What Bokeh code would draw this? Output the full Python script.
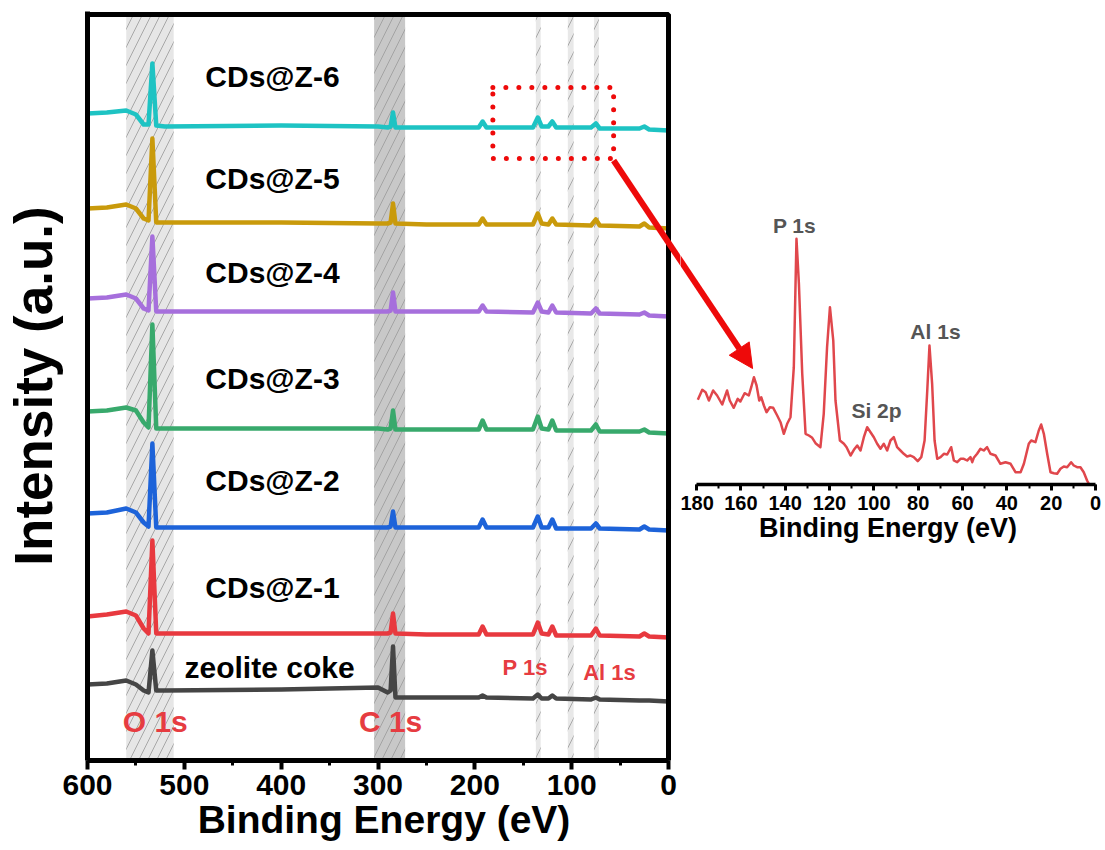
from bokeh.plotting import figure
from bokeh.models import (Range1d, BoxAnnotation, Arrow, NormalHead, Label,
                          SingleIntervalTicker, FixedTicker, ColumnDataSource, Spacer)
from bokeh.layouts import row, column
from bokeh.embed import file_html
from bokeh.resources import INLINE

# ---------------- data: survey spectra (stacked, arbitrary units) ----------------
energy = [600, 580, 560, 550, 542, 537, 533, 529, 520, 400, 300, 290, 287, 284.5, 282,
          250, 196, 192, 188, 140, 135, 131, 124, 120, 116, 80, 75, 71, 30, 25, 20, 0]

z6 = [647, 648, 650, 646, 636, 636, 697, 635, 634, 635, 634, 633, 634, 648, 633,
      633, 633, 639, 633, 633, 643, 634, 634, 639, 633, 633, 637, 632, 632, 634, 631, 630]
z5 = [552, 553, 556, 552, 542, 540, 622, 538, 538, 538, 537, 537, 538, 557, 537,
      536, 536, 542, 536, 536, 547, 537, 536, 542, 536, 535, 541, 535, 534, 537, 533, 532]
z4 = [462, 463, 466, 462, 452, 450, 524, 449, 449, 449, 449, 449, 450, 468, 449,
      449, 449, 455, 449, 448, 458, 449, 448, 455, 448, 447, 452, 447, 446, 448, 445, 444]
z3 = [349, 350, 353, 350, 338, 333, 436, 332, 332, 332, 332, 331, 332, 350, 331,
      331, 331, 340, 331, 331, 344, 332, 331, 340, 330, 330, 336, 329, 329, 331, 328, 327]
z2 = [247, 248, 252, 248, 238, 234, 317, 233, 233, 233, 233, 233, 234, 249, 233,
      233, 233, 241, 233, 233, 244, 233, 233, 241, 232, 232, 237, 232, 231, 234, 231, 230]
z1 = [144, 146, 149, 145, 132, 127, 220, 127, 127, 127, 127, 127, 128, 147, 127,
      126, 126, 134, 126, 126, 138, 127, 126, 134, 125, 125, 132, 125, 124, 127, 124, 123]
coke = [76, 77, 80, 76, 70, 68, 110, 70, 70, 71, 73, 68, 70, 114, 63,
        63, 63, 65, 63, 62, 66, 62, 62, 65, 62, 61, 63, 61, 60, 60, 60, 59]

series_names = ["CDs@Z-6", "CDs@Z-5", "CDs@Z-4", "CDs@Z-3", "CDs@Z-2", "CDs@Z-1", "zeolite coke"]
series_values = [z6, z5, z4, z3, z2, z1, coke]
series_colors = ["#1ec3c3", "#c99a0b", "#a66fdc", "#38a96c", "#1d63d9", "#e8393f", "#454545"]
label_x = [409, 409, 409, 409, 409, 409, 412]
label_y = [684, 582, 488, 382, 280, 173, 93]

# highlighted binding-energy bands (eV)
o_band = (560, 511)
c_band = (304, 272)
thin_bands = [(137, 132), (104, 98), (77, 72)]

peak_names = ["O 1s", "C 1s", "P 1s", "Al 1s"]
peak_x = [530, 287, 148, 61]
peak_y = [39, 39, 93, 88]
peak_size = ["30px", "30px", "22px", "22px"]

# ---------------- data: inset (zoom 180-0 eV, CDs@Z-6) ----------------
inset_energy = [179.4, 177.4, 175.9, 174.4, 172.5, 170.7, 168.4, 166.2, 165.0, 163.2, 161.4,
                160.2, 158.3, 156.4, 155.3, 154.1, 152.9, 151.7, 150.8, 149.6, 148.4, 146.9,
                145.4, 143.6, 142.1, 140.6, 139.1, 137.6, 136.1, 134.9, 133.8, 132.3, 130.8,
                129.3, 127.8, 126.3, 124.1, 122.6, 121.1, 119.8, 118.3, 117.3, 115.3, 113.5,
                112.3, 110.5, 109.0, 107.5, 106.0, 104.5, 103.0, 101.5, 100.0, 98.5, 97.0,
                95.5, 94.0, 92.5, 91.0, 89.5, 88.0, 86.5, 85.0, 83.5, 82.0, 80.2, 78.6, 77.1,
                75.9, 74.9, 73.7, 72.6, 71.4, 69.9, 68.4, 66.9, 65.1, 63.9, 62.4, 60.9, 59.4,
                57.9, 56.4, 55.6, 54.9, 53.4, 51.9, 50.4, 48.9, 47.4, 45.1, 42.9, 40.6, 38.3,
                36.1, 33.8, 32.3, 30.1, 29.0, 27.1, 25.6, 24.5, 23.3, 21.8, 20.3, 18.8, 17.3,
                15.8, 14.3, 12.8, 11.0, 9.8, 8.3, 6.8, 5.3, 3.8, 3.0]
inset_intensity = [84.7, 94.7, 92.3, 84.0, 94.0, 89.0, 80.0, 94.0, 84.0, 76.7, 85.7,
                   83.0, 91.3, 89.0, 97.3, 107.3, 99.0, 84.0, 87.3, 79.0, 72.3, 77.3,
                   76.7, 69.0, 62.3, 50.7, 60.7, 67.3, 117.3, 245.7, 200.7, 110.7, 50.7,
                   49.0, 46.7, 41.3, 37.3, 70.7, 137.3, 177.3, 144.0, 84.0, 44.0, 40.7,
                   37.3, 29.0, 34.7, 39.0, 34.0, 47.3, 57.3, 52.3, 47.3, 40.7, 35.7,
                   40.7, 34.0, 44.0, 47.3, 37.3, 34.0, 30.7, 28.0, 29.0, 27.3, 23.3, 27.3, 44.0,
                   94.0, 139.0, 100.7, 44.0, 25.7, 27.3, 30.7, 30.0, 37.3, 24.0, 22.3, 25.7, 25.7,
                   24.0, 27.3, 22.3, 26.7, 30.7, 35.7, 34.0, 37.3, 30.7, 29.0, 20.7, 22.3, 20.7,
                   12.3, 12.3, 20.7, 40.7, 44.0, 42.3, 54.0, 60.0, 50.7, 30.7, 12.3, 11.3, 10.7,
                   15.7, 18.0, 17.3, 22.3, 19.0, 17.3, 17.3, 12.3, 4.0, 0.7]
inset_peak_names = ["P 1s", "Si 2p", "Al 1s"]
inset_peak_x = [135.8, 98.8, 72.2]
inset_peak_y = [259, 74, 153]

# zoom box on the main plot and connecting arrow
zoom_box = dict(left=181.4, right=56.7, top=673, bottom=602)
arrow_main = dict(x0=56.7, y0=600, x1=-22.7, y1=484.8)
arrow_inset = dict(x_start=191.7, y_start=238.7, x_end=154.7, y_end=116)

FONT = "Liberation Sans"
RED = "#e63c41"
ARROW_RED = "#ee0a0a"

# ---------------- main figure ----------------
p = figure(width=680, height=850, output_backend="svg", toolbar_location=None,
           x_range=Range1d(600, -12.37), y_range=Range1d(0, 749),
           min_border_left=86, min_border_right=0, min_border_top=11, min_border_bottom=90)
p.grid.visible = False
p.outline_line_color = None
p.background_fill_color = "white"
p.border_fill_color = "white"

def band(lo_hi, fill):
    left, right = lo_hi
    return BoxAnnotation(left=right, right=left, bottom=0, top=746, fill_color=fill,
                         fill_alpha=1.0, line_color=None, hatch_pattern="/",
                         hatch_color="#9c9c9c", hatch_alpha=0.85, hatch_scale=18,
                         hatch_weight=1, level="underlay")

p.add_layout(band(o_band, "#e6e6e6"))
p.add_layout(band(c_band, "#c8c8c8"))
for b in thin_bands:
    p.add_layout(band(b, "#e8e8e8"))

for vals, col in zip(series_values, series_colors):
    src = ColumnDataSource(dict(x=energy, y=vals))
    p.line("x", "y", source=src, line_color=col, line_width=4.5, line_join="round")

for name, lx, ly in zip(series_names, label_x, label_y):
    p.add_layout(Label(x=lx, y=ly, text=name, text_font=FONT, text_font_style="bold",
                       text_font_size="30px", text_align="center", text_baseline="middle",
                       text_color="black"))

for name, lx, ly, fs in zip(peak_names, peak_x, peak_y, peak_size):
    p.add_layout(Label(x=lx, y=ly, text=name, text_font=FONT, text_font_style="bold",
                       text_font_size=fs, text_align="center", text_baseline="middle",
                       text_color=RED))

# plot frame (drawn as a box so the arrow can leave it)
p.add_layout(BoxAnnotation(left=600, right=0, bottom=0, top=746, fill_color=None,
                           fill_alpha=0, line_color="black", line_alpha=1.0, line_width=5))

p.add_layout(BoxAnnotation(fill_color=None, fill_alpha=0, line_color=ARROW_RED, line_alpha=1.0,
                           line_width=5, line_dash="0 13", line_cap="round", **zoom_box))
p.segment(line_color=ARROW_RED, line_width=6, level="overlay", **arrow_main)

p.xaxis.ticker = SingleIntervalTicker(interval=100, num_minor_ticks=2)
p.xaxis.bounds = (0, 600)
p.xaxis.axis_label = "Binding Energy (eV)"
p.xaxis.axis_label_text_font = FONT
p.xaxis.axis_label_text_font_style = "bold"
p.xaxis.axis_label_text_font_size = "39px"
p.xaxis.axis_label_text_color = "black"
p.xaxis.axis_label_standoff = 0
p.xaxis.major_label_text_font = FONT
p.xaxis.major_label_text_font_style = "bold"
p.xaxis.major_label_text_font_size = "30px"
p.xaxis.major_label_text_color = "black"
p.xaxis.major_label_standoff = 5
p.xaxis.axis_line_width = 5
p.xaxis.major_tick_line_width = 4
p.xaxis.major_tick_out = 9
p.xaxis.major_tick_in = 0
p.xaxis.minor_tick_line_width = 3
p.xaxis.minor_tick_out = 5
p.xaxis.minor_tick_in = 0

p.yaxis.ticker = FixedTicker(ticks=[])
p.yaxis.axis_label = "Intensity (a.u.)"
p.yaxis.axis_label_text_font = FONT
p.yaxis.axis_label_text_font_style = "bold"
p.yaxis.axis_label_text_font_size = "53px"
p.yaxis.axis_label_text_color = "black"
p.yaxis.axis_label_standoff = 25
p.yaxis.major_label_standoff = 0
p.yaxis.axis_line_width = 5
p.yaxis.major_tick_line_color = None
p.yaxis.minor_tick_line_color = None

# ---------------- inset figure ----------------
q = figure(width=425, height=380, output_backend="svg", toolbar_location=None,
           x_range=Range1d(187.22, 0), y_range=Range1d(0, 284), y_axis_location=None,
           min_border_left=0, min_border_right=10, min_border_top=10, min_border_bottom=86)
q.grid.visible = False
q.outline_line_color = None
q.background_fill_color = "white"
q.border_fill_color = "white"
q.line(inset_energy, inset_intensity, line_color="#e0474c", line_width=2.5, line_join="round")

for name, lx, ly in zip(inset_peak_names, inset_peak_x, inset_peak_y):
    q.add_layout(Label(x=lx, y=ly, text=name, text_font=FONT, text_font_style="bold",
                       text_font_size="21px", text_align="center", text_baseline="middle",
                       text_color="#555555"))

q.add_layout(Arrow(end=NormalHead(size=24, fill_color=ARROW_RED, line_color=ARROW_RED),
                   line_color=ARROW_RED, line_width=6, **arrow_inset))

q.xaxis.ticker = SingleIntervalTicker(interval=20, num_minor_ticks=2)
q.xaxis.bounds = (0, 180)
q.xaxis.axis_label = "Binding Energy (eV)"
q.xaxis.axis_label_text_font = FONT
q.xaxis.axis_label_text_font_style = "bold"
q.xaxis.axis_label_text_font_size = "27px"
q.xaxis.axis_label_text_color = "black"
q.xaxis.axis_label_standoff = 0
q.xaxis.major_label_text_font = FONT
q.xaxis.major_label_text_font_style = "bold"
q.xaxis.major_label_text_font_size = "20px"
q.xaxis.major_label_text_color = "black"
q.xaxis.major_label_standoff = 5
q.xaxis.axis_line_width = 3.5
q.xaxis.major_tick_line_width = 3
q.xaxis.major_tick_out = 6
q.xaxis.major_tick_in = 0
q.xaxis.minor_tick_line_width = 2
q.xaxis.minor_tick_out = 4
q.xaxis.minor_tick_in = 0

layout = row(p, column(Spacer(width=425, height=190), q))
open("out.html", "w").write(file_html(layout, INLINE))
